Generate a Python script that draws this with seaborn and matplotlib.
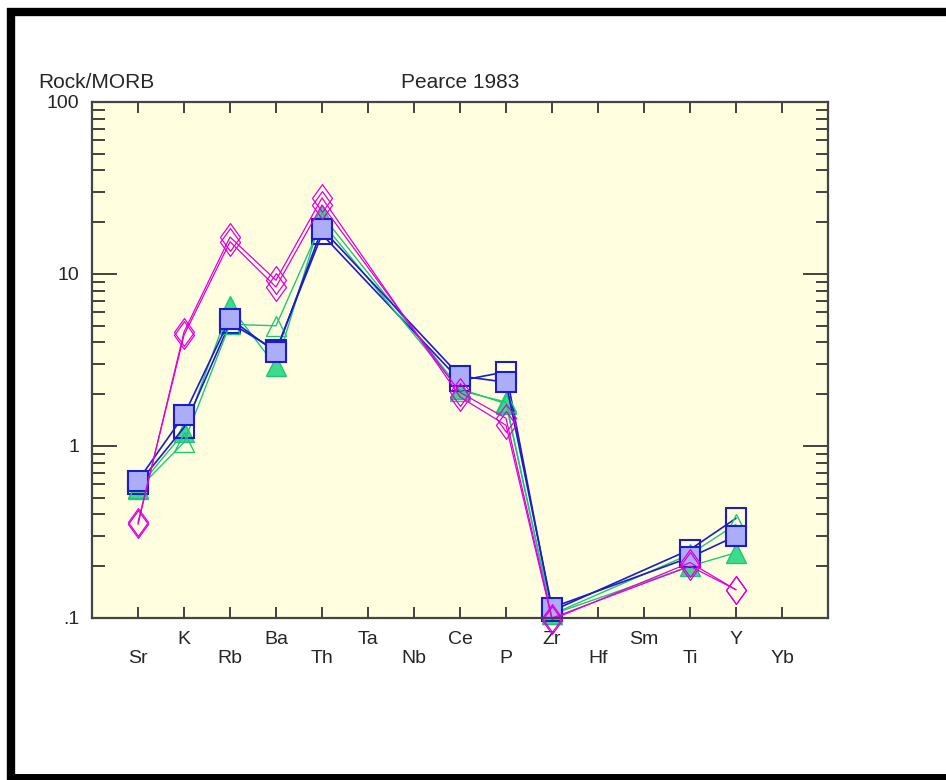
import numpy as np
import pandas as pd
import matplotlib
matplotlib.use("Agg")
import matplotlib.pyplot as plt
import seaborn as sns
from matplotlib.lines import Line2D
from matplotlib.path import Path
from matplotlib.ticker import FixedLocator, NullFormatter, FixedFormatter

sns.set_style("ticks")
plt.rcParams['font.family'] = ['Liberation Sans', 'DejaVu Sans']

# ---- data ----
elements = ["Sr", "K", "Rb", "Ba", "Th", "Ta", "Nb", "Ce", "P", "Zr", "Hf", "Sm", "Ti", "Y", "Yb"]
sample_elements = ["Sr", "K", "Rb", "Ba", "Th", "Ce", "P", "Zr", "Ti", "Y"]

green_filled = [0.57, 1.2, 6.5, 2.9, 22.0, 2.15, 1.76, 0.105, 0.20, 0.24]
square_open = [0.60, 1.28, 5.2, 3.6, 17.0, 2.4, 2.7, 0.110, 0.25, 0.38]
green_open = [0.56, 1.05, 5.1, 5.0, 20.0, 2.1, 1.8, 0.105, 0.235, 0.35]
square_filled = [0.63, 1.51, 5.5, 3.5, 18.3, 2.55, 2.35, 0.115, 0.225, 0.30]
diamond_a = [0.35, 4.6, 16.4, 9.2, 27.7, 1.93, 1.32, 0.098, 0.21, 0.146]
diamond_b = [0.36, 4.4, 15.4, 8.4, 25.2, 2.05, 1.45, 0.100, 0.20, 0.146]

yticks = [0.1, 1, 10, 100]
ytick_labels = [".1", "1", "10", "100"]

pos = {e: i for i, e in enumerate(elements)}
xs = [pos[e] for e in sample_elements]

W, H = 946, 780
fig = plt.figure(figsize=(W / 100, H / 100), dpi=100)
fig.patch.set_facecolor("white")
ax = fig.add_axes([92 / W, 1 - 618 / H, (828 - 92) / W, (618 - 102) / H])
ax.set_facecolor("#FFFFE0")

blue = "#1C1CC8"
green = "#22C47A"
green_fill = "#3DDC8C"
magenta = "#DD00DD"
sq_fill = "#ABAEF7"

diamond = Path([(0, 1), (0.72, 0), (0, -1), (-0.72, 0), (0, 1)],
               [Path.MOVETO, Path.LINETO, Path.LINETO, Path.LINETO, Path.CLOSEPOLY])

series = [
    (green_filled, dict(color=green, marker="^", markersize=15, markerfacecolor=green_fill,
                        markeredgecolor=green, markeredgewidth=1.0, linewidth=1.0)),
    (square_open, dict(color=blue, marker="s", markersize=14, markerfacecolor="none",
                       markeredgecolor=blue, markeredgewidth=1.5, linewidth=1.2)),
    (green_open, dict(color=green, marker="^", markersize=15, markerfacecolor="none",
                      markeredgecolor=green, markeredgewidth=1.0, linewidth=1.0)),
    (square_filled, dict(color=blue, marker="s", markersize=14, markerfacecolor=sq_fill,
                         markeredgecolor=blue, markeredgewidth=1.5, linewidth=1.2)),
    (diamond_a, dict(color=magenta, marker=diamond, markersize=20, markerfacecolor="none",
                     markeredgecolor=magenta, markeredgewidth=0.9, linewidth=0.9)),
    (diamond_b, dict(color=magenta, marker=diamond, markersize=20, markerfacecolor="none",
                     markeredgecolor=magenta, markeredgewidth=0.9, linewidth=0.9)),
]

for vals, kw in series:
    df = pd.DataFrame({"x": xs, "y": vals})
    sns.lineplot(data=df, x="x", y="y", ax=ax, sort=False, clip_on=False, **kw)

ax.set_yscale("log")
ax.set_ylim(0.1, 100)
ax.set_xlim(-1, 15)
ax.set_xlabel("")
ax.set_ylabel("")

# x ticks with alternating rows
xlabels = [("" if i % 2 == 1 else "\n") + e for i, e in enumerate(elements)]
ax.set_xticks(range(len(elements)))
ax.set_xticklabels(xlabels, fontsize=14, linespacing=1.22)
ax.tick_params(axis="x", which="major", direction="in", length=8, width=1.3, top=True,
               bottom=True, pad=9, color="#333333")

# y ticks
ax.yaxis.set_major_locator(FixedLocator(yticks))
ax.yaxis.set_major_formatter(FixedFormatter(ytick_labels))
minors = [m * d for d in [0.1, 1, 10] for m in range(2, 10)]
ax.yaxis.set_minor_locator(FixedLocator(minors))
ax.yaxis.set_minor_formatter(NullFormatter())
ax.tick_params(axis="y", which="major", direction="in", length=18, width=1.3, left=True,
               right=True, labelsize=14, pad=9, color="#333333")
ax.tick_params(axis="y", which="minor", direction="in", length=9, width=1.3, left=True,
               right=True, color="#333333")

for s in ax.spines.values():
    s.set_color("#444444")
    s.set_linewidth(1.6)

fig.text(38 / W, 1 - 82 / H, "Rock/MORB", fontsize=15, ha="left", va="center")
fig.text(460 / W, 1 - 82 / H, "Pearce 1983", fontsize=15, ha="center", va="center")

# outer black frame
def fl(x0, y0, x1, y1, lw):
    fig.add_artist(Line2D([x0 / W, x1 / W], [1 - y0 / H, 1 - y1 / H], color="black",
                          linewidth=lw, solid_capstyle="butt", transform=fig.transFigure))

fl(7, 12, 946, 12, 6)
fl(11, 8, 11, 780, 6)
fl(7, 777, 946, 777, 5)

fig.savefig("out.png", dpi=100)
